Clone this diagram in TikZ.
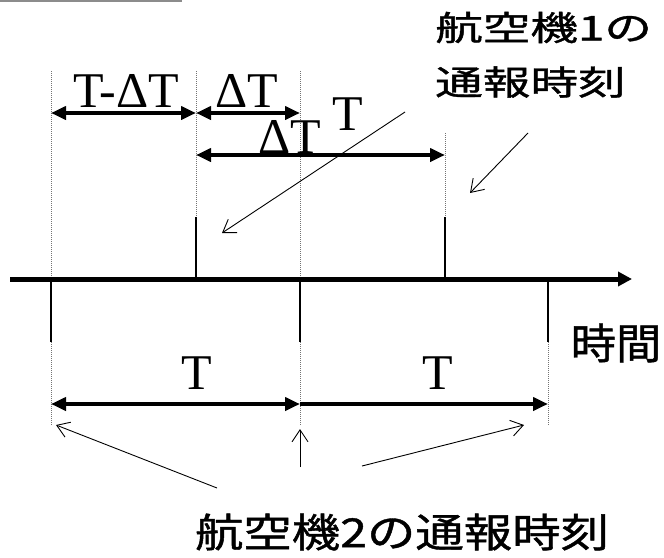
\documentclass[tikz,border=0pt]{standalone}
\usepackage{fontspec}
\setmainfont{Liberation Serif}
\newfontfamily\cjk[FakeBold=1]{Noto Sans CJK JP}
\usetikzlibrary{arrows.meta}
\begin{document}
\begin{tikzpicture}[x=1pt,y=-1pt,
  guide/.style={draw=black!55,line width=0.8pt,dash pattern=on 1pt off 1pt},
  tick/.style={draw=black,line width=2pt},
  dim/.style={draw=black,line width=4pt,{Triangle[length=15pt,width=13pt]}-{Triangle[length=15pt,width=13pt]}},
  dimr/.style={draw=black,line width=4pt,-{Triangle[length=15pt,width=13pt]}},
  axis/.style={draw=black,line width=5pt,-{Triangle[length=14pt,width=14pt]}},
  pointer/.style={draw=black,line width=0.9pt,-{Straight Barb[length=12pt,width=16pt,line width=0.9pt]}},
  lat/.style={inner sep=0pt,font=\fontsize{50}{55}\selectfont},
  jp/.style={inner sep=0pt}]
\useasboundingbox (0,0) rectangle (664,557);
\draw[black!45,line width=1.5pt] (0,0.75) -- (182,0.75);
% coordinates
\coordinate (a0) at (10,279);
\coordinate (a1) at (632,279);
\foreach \n/\x in {p/51,q/196,r/300,s/445,u/548}{
  \coordinate (\n top) at (\x,71);
  \coordinate (\n axis) at (\x,279);
  \coordinate (\n up) at (\x,217);
  \coordinate (\n down) at (\x,342);
  \coordinate (\n low) at (\x,425);
  \coordinate (\n d1) at (\x,113);
  \coordinate (\n d2) at (\x,155);
  \coordinate (\n d3) at (\x,404);
}
\coordinate (stop) at (445,133);
% guides
\draw[guide] (ptop) -- (paxis);
\draw[guide] (qtop) -- (qup);
\draw[guide] (rtop) -- (raxis);
\draw[guide] (stop) -- (sup);
\draw[guide] (pdown) -- (plow);
\draw[guide] (rdown) -- (rlow);
\draw[guide] (udown) -- (ulow);
% axis and ticks
\draw[axis] (a0) -- (a1);
\draw[tick] (qup) -- (qaxis);
\draw[tick] (sup) -- (saxis);
\draw[tick] (paxis) -- (pdown);
\draw[tick] (raxis) -- (rdown);
\draw[tick] (uaxis) -- (udown);
% dimensions
\draw[dim] (pd1) -- (qd1);
\draw[dim] (qd1) -- (rd1);
\draw[dim] (qd2) -- (sd2);
\draw[dim] (pd3) -- (rd3);
\draw[dimr] (rd3) -- (ud3);
% labels
\node[lat] (l1) at (126,91) {T-ΔT};
\node[lat] (l2) at (247,91) {ΔT};
\node[lat] (l3) at (290,137) {ΔT};
\node[lat] (l4) at (348,114) {T};
\node[lat] (l5) at (197,373) {T};
\node[lat] (l6) at (438,373) {T};
\node[jp,anchor=west] (j1) at (435,27.5) {\fontsize{34}{40}\cjk\scalebox{1.4}[1]{航空機1の}};
\node[jp,anchor=west] (j2) at (435,82) {\fontsize{34}{40}\cjk\scalebox{1.4}[1]{通報時刻}};
\node[jp] (j3) at (402,532) {\fontsize{40}{46}\cjk\scalebox{1.21}[1]{航空機2の通報時刻}};
\node[jp] (j4) at (616,343) {\fontsize{42}{46}\cjk\scalebox{1.08}[1]{時間}};
% pointers
\coordinate (s1) at (405,112);
\coordinate (e1) at (222,233);
\coordinate (s2) at (528,133);
\coordinate (e2) at (470,193);
\coordinate (s3) at (217,488);
\coordinate (e3) at (56,425);
\coordinate (s4) at (300,467);
\coordinate (e4) at (300,429);
\coordinate (s5) at (362,466);
\coordinate (e5) at (524,425);
\draw[pointer] (s1) -- (e1);
\draw[pointer] (s2) -- (e2);
\draw[pointer] (s3) -- (e3);
\draw[pointer] (s4) -- (e4);
\draw[pointer] (s5) -- (e5);
\end{tikzpicture}
\end{document}
